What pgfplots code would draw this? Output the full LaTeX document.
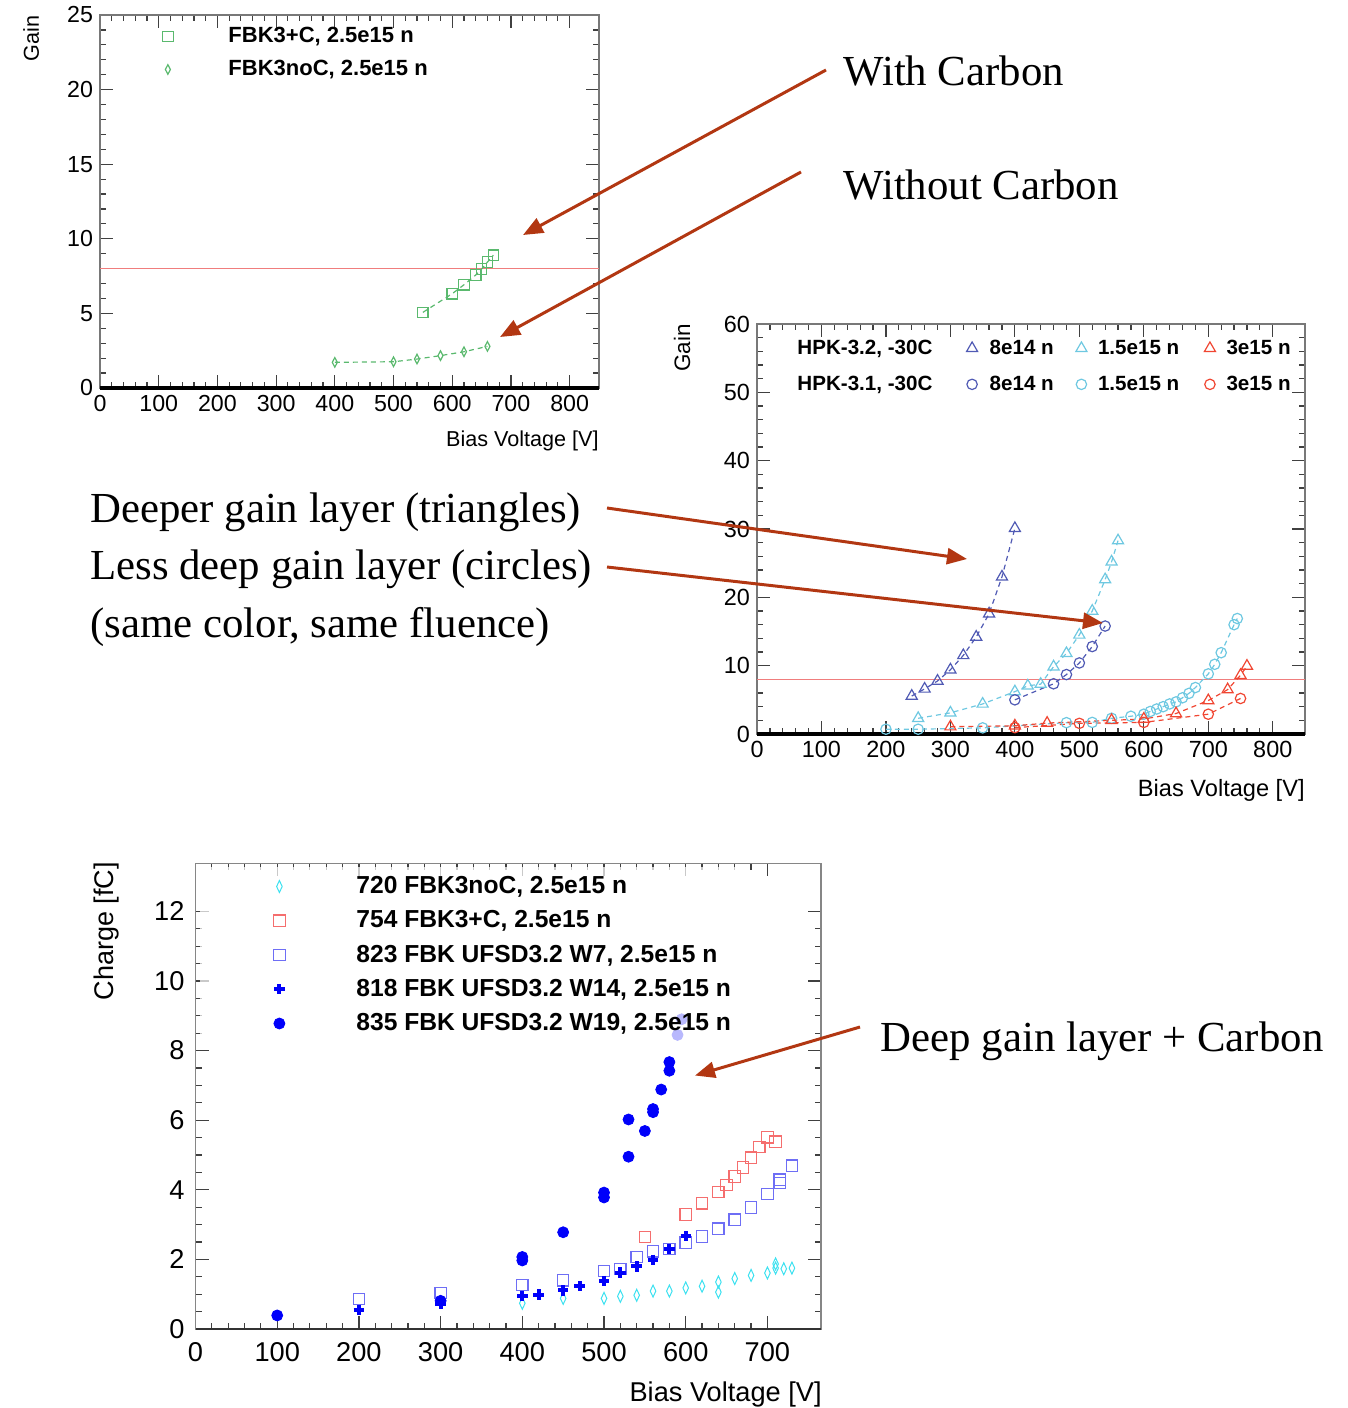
\documentclass[border=0pt]{standalone}
\usepackage{fontspec}
\setmainfont{Liberation Serif}
\setsansfont{Liberation Sans}
\usepackage{pgfplots}
\pgfplotsset{compat=1.18}
\usetikzlibrary{arrows.meta}

\definecolor{fgreen}{RGB}{90,185,110}
\definecolor{hdark}{RGB}{80,90,180}
\definecolor{hlight}{RGB}{110,200,225}
\definecolor{hred}{RGB}{240,70,50}
\definecolor{gline}{RGB}{240,125,125}
\definecolor{arr}{RGB}{178,55,18}
\definecolor{bcyan}{RGB}{60,225,240}
\definecolor{bred}{RGB}{245,110,110}
\definecolor{bsq}{RGB}{110,110,245}
\definecolor{bblue}{RGB}{0,0,250}
\definecolor{framec}{RGB}{120,120,120}

\pgfplotsset{
  rootax/.style={
    scale only axis, anchor=south west, clip=false,
    axis line style={framec, line width=0.6pt},
    every tick/.style={black!75, line width=0.6pt},
    tick align=inside, tick pos=both,
    major tick length=6.5pt, minor tick length=3.2pt,
    minor x tick num=4, minor y tick num=4,
    /pgf/number format/assume math mode=true,
    scaled ticks=false,
    legend cell align=left,
  }
}
\newcommand{\annot}{\fontsize{21.4}{25}\selectfont}

\begin{document}
\begin{tikzpicture}
\path[use as bounding box] (0pt,0pt) rectangle (674pt,-704pt);

%================ top-left =================
\begin{axis}[rootax, name=ax1, at={(50pt,-194pt)}, width=249.5pt, height=186.5pt,
  xmin=0, xmax=850, ymin=0, ymax=25,
  xtick={0,100,...,800}, ytick={0,5,...,25},
  tick label style={font=\sffamily\fontsize{11.6}{13}\selectfont},
  legend style={at={(rel axis cs:0.102,0.973)}, anchor=north west, draw=none, fill=none, inner sep=0pt,
     font=\sffamily\bfseries\fontsize{11}{13}\selectfont, row sep=5.5pt,
     nodes={inner sep=0pt, text height=8.5pt, text depth=2.5pt},
     /tikz/column 1/.style={column sep=22pt}},
  legend image code/.code={\draw[#1] plot coordinates {(8pt,0pt)}; \path (0pt,0pt) (16pt,0pt);},
]
\addlegendimage{fgreen, mark=square, mark size=2.6pt, line width=0.6pt, solid}
\addlegendentry{FBK3+C, 2.5e15 n}
\addlegendimage{fgreen, mark=diamond, mark size=2.4pt, mark options={xscale=0.7}, line width=0.6pt, solid}
\addlegendentry{FBK3noC, 2.5e15 n}
\addplot[gline, line width=0.7pt, forget plot] coordinates {(0,8)(850,8)};
\addplot[fgreen, line width=0.6pt, dash pattern=on 2.5pt off 2pt, mark=square, mark size=2.6pt, mark options={solid}, forget plot]
  coordinates {(550,5.07)(600,6.32)(620,6.92)(640,7.57)(650,7.97)(660,8.44)(670,8.9)};
\addplot[fgreen, line width=0.6pt, dash pattern=on 2.5pt off 2pt, mark=diamond, mark size=2.4pt, mark options={solid, xscale=0.7}, forget plot]
  coordinates {(400,1.72)(500,1.76)(540,1.94)(580,2.17)(620,2.43)(660,2.79)};
\draw[black, line width=2pt] (rel axis cs:0,0) -- (rel axis cs:1,0);
\end{axis}
\node[rotate=90, anchor=base east, inner sep=0pt, font=\sffamily\fontsize{10.8}{12}\selectfont] at (19.5pt,-7.5pt) {Gain};
\node[anchor=base east, inner sep=0pt, font=\sffamily\fontsize{10.8}{12}\selectfont] at (299.5pt,-223pt) {Bias Voltage [V]};

%================ middle-right =================
\begin{axis}[rootax, name=ax2, at={(378.5pt,-367pt)}, width=274pt, height=205pt,
  xmin=0, xmax=850, ymin=0, ymax=60,
  xtick={0,100,...,800}, ytick={0,10,...,60},
  tick label style={font=\sffamily\fontsize{11.7}{13}\selectfont},
  legend columns=4,
  legend style={at={(rel axis cs:0.073,0.966)}, anchor=north west, draw=none, fill=none, inner sep=0pt,
     font=\sffamily\bfseries\fontsize{10.3}{12}\selectfont, row sep=8pt,
     nodes={inner sep=0pt, text height=8pt, text depth=2pt},
     /tikz/column 2/.style={column sep=15.5pt},
     /tikz/column 3/.style={column sep=4.5pt},
     /tikz/column 4/.style={column sep=9.5pt},
     /tikz/column 5/.style={column sep=4pt},
     /tikz/column 6/.style={column sep=11pt},
     /tikz/column 7/.style={column sep=4pt}},
  legend image code/.code={\draw[#1] plot coordinates {(4pt,0pt)}; \path (0pt,0pt) (8pt,0pt);},
]
\addlegendimage{legend image code/.code={}}
\addlegendentry{HPK-3.2, -30C}
\addlegendimage{hdark, mark=triangle, mark size=3.2pt, line width=0.6pt, solid}
\addlegendentry{8e14 n}
\addlegendimage{hlight, mark=triangle, mark size=3.2pt, line width=0.6pt, solid}
\addlegendentry{1.5e15 n}
\addlegendimage{hred, mark=triangle, mark size=3.2pt, line width=0.6pt, solid}
\addlegendentry{3e15 n}
\addlegendimage{legend image code/.code={}}
\addlegendentry{HPK-3.1, -30C}
\addlegendimage{hdark, mark=o, mark size=2.6pt, line width=0.6pt, solid}
\addlegendentry{8e14 n}
\addlegendimage{hlight, mark=o, mark size=2.6pt, line width=0.6pt, solid}
\addlegendentry{1.5e15 n}
\addlegendimage{hred, mark=o, mark size=2.6pt, line width=0.6pt, solid}
\addlegendentry{3e15 n}
\addplot[gline, line width=0.7pt, forget plot] coordinates {(0,8)(850,8)};
\addplot[hlight, line width=0.6pt, dash pattern=on 2.5pt off 2pt, mark=o, mark size=2.6pt, mark options={solid}, forget plot]
  coordinates {(200,0.7)(250,0.7)(350,0.9)(480,1.66)(520,1.7)(550,2.3)(580,2.6)(600,2.9)(610,3.3)(620,3.66)(630,4.0)(640,4.4)(650,4.7)(660,5.3)(670,5.95)(680,6.8)(700,8.8)(710,10.2)(720,11.9)(740,16.0)(745,16.9)};
\addplot[hred, line width=0.6pt, dash pattern=on 2.5pt off 2pt, mark=o, mark size=2.6pt, mark options={solid}, forget plot]
  coordinates {(400,0.93)(500,1.56)(600,1.7)(700,2.9)(750,5.2)};
\addplot[hred, line width=0.6pt, dash pattern=on 2.5pt off 2pt, mark=triangle, mark size=3.2pt, mark options={solid}, forget plot]
  coordinates {(300,1.07)(400,1.2)(450,1.6)(550,2.0)(600,2.2)(650,3.0)(700,4.9)(730,6.5)(750,8.6)(760,9.95)};
\addplot[hlight, line width=0.6pt, dash pattern=on 2.5pt off 2pt, mark=triangle, mark size=3.2pt, mark options={solid}, forget plot]
  coordinates {(250,2.3)(300,3.1)(350,4.4)(400,6.2)(420,7.05)(440,7.3)(460,9.85)(480,11.8)(500,14.5)(520,18.0)(540,22.6)(550,25.2)(560,28.3)};
\addplot[hdark, line width=0.6pt, dash pattern=on 2.5pt off 2pt, mark=o, mark size=2.6pt, mark options={solid}, forget plot]
  coordinates {(400,5.0)(460,7.35)(480,8.7)(500,10.4)(520,12.8)(540,15.8)};
\addplot[hdark, line width=0.6pt, dash pattern=on 2.5pt off 2pt, mark=triangle, mark size=3.2pt, mark options={solid}, forget plot]
  coordinates {(240,5.56)(260,6.6)(280,7.76)(300,9.4)(320,11.5)(340,14.2)(360,17.6)(380,23.0)(400,30.1)};
\draw[black, line width=2pt] (rel axis cs:0,0) -- (rel axis cs:1,0);
\end{axis}
\node[rotate=90, anchor=base east, inner sep=0pt, font=\sffamily\fontsize{11.2}{12}\selectfont] at (345pt,-162pt) {Gain};
\node[anchor=base east, inner sep=0pt, font=\sffamily\fontsize{11.8}{13}\selectfont] at (652.5pt,-398pt) {Bias Voltage [V]};

%================ bottom =================
\begin{axis}[rootax, name=ax3, at={(97.75pt,-664.5pt)}, width=312.75pt, height=232.85pt,
  xmin=0, xmax=765.6, ymin=0, ymax=13.38,
  xtick={0,100,...,700}, ytick={0,2,...,12},
  minor y tick num=3,
  axis line style={framec!90, line width=0.8pt},
  tick label style={font=\sffamily\fontsize{13.6}{15}\selectfont},
  xticklabel style={yshift=-3pt},
  yticklabel style={xshift=-2pt},
  legend style={at={(rel axis cs:0.0072,0.994)}, anchor=north west, draw=none, fill=white, fill opacity=0.72, text opacity=1,
     inner xsep=2pt, inner ysep=4pt,
     font=\sffamily\bfseries\fontsize{12.3}{14}\selectfont, row sep=5.125pt,
     nodes={inner sep=0pt, text height=9.5pt, text depth=2.5pt},
     /tikz/column 1/.style={column sep=29pt}},
  legend image code/.code={\draw[#1, fill opacity=1, draw opacity=1] plot coordinates {(36.5pt,0pt)}; \path (0pt,0pt) (45pt,0pt);},
]
\addlegendimage{bcyan, mark=diamond, mark size=3pt, mark options={xscale=0.62}, line width=0.5pt}
\addlegendentry{720 FBK3noC, 2.5e15 n}
\addlegendimage{bred, mark=square, mark size=2.85pt, line width=0.6pt}
\addlegendentry{754 FBK3+C, 2.5e15 n}
\addlegendimage{bsq, mark=square, mark size=2.85pt, line width=0.6pt}
\addlegendentry{823 FBK UFSD3.2 W7, 2.5e15 n}
\addlegendimage{bblue, mark=+, mark size=2.6pt, line width=2pt}
\addlegendentry{818 FBK UFSD3.2 W14, 2.5e15 n}
\addlegendimage{bblue, mark=*, mark size=2.75pt, mark options={fill=bblue}}
\addlegendentry{835 FBK UFSD3.2 W19, 2.5e15 n}
\addplot[bcyan, only marks, mark=diamond, mark size=3pt, mark options={xscale=0.62}, line width=0.5pt, forget plot]
  coordinates {(400,0.74)(450,0.88)(500,0.88)(520,0.94)(540,0.97)(560,1.09)(580,1.09)(600,1.18)(620,1.23)(640,1.35)(640,1.06)(660,1.45)(680,1.54)(700,1.61)(710,1.75)(710,1.87)(720,1.73)(730,1.75)};
\addplot[bred, only marks, mark=square, mark size=2.85pt, line width=0.6pt, forget plot]
  coordinates {(550,2.64)(600,3.29)(620,3.61)(640,3.94)(650,4.14)(660,4.38)(670,4.64)(680,4.92)(690,5.23)(700,5.51)(710,5.38)};
\addplot[bsq, only marks, mark=square, mark size=2.85pt, line width=0.6pt, forget plot]
  coordinates {(200,0.86)(300,1.03)(400,1.26)(450,1.4)(500,1.67)(520,1.73)(540,2.07)(560,2.23)(580,2.3)(600,2.48)(620,2.66)(640,2.88)(660,3.14)(680,3.49)(700,3.88)(715,4.2)(715,4.29)(730,4.69)};
\addplot[bblue, only marks, mark=+, mark size=2.6pt, line width=2pt, forget plot]
  coordinates {(200,0.55)(300,0.72)(400,0.95)(420,0.99)(450,1.11)(470,1.23)(500,1.38)(520,1.62)(540,1.8)(560,1.99)(580,2.3)(600,2.67)};
\addplot[bblue, only marks, mark=*, mark size=2.75pt, mark options={fill=bblue}, forget plot]
  coordinates {(100,0.39)(300,0.81)(400,2.07)(400,1.97)(450,2.78)(500,3.92)(500,3.78)(530,4.95)(530,6.02)(550,5.69)(560,6.32)(560,6.23)(570,6.88)(580,7.42)(580,7.67)(590,8.45)(595,8.9)};
\draw[black!80, line width=1.4pt] (rel axis cs:0,0) -- (rel axis cs:1,0);
\end{axis}
\node[rotate=90, anchor=base east, inner sep=0pt, font=\sffamily\fontsize{13.5}{15}\selectfont] at (56.5pt,-431pt) {Charge [fC]};
\node[anchor=base east, inner sep=0pt, font=\sffamily\fontsize{13.6}{15}\selectfont] at (411pt,-700.5pt) {Bias Voltage [V]};

%================ annotations =================
\node[anchor=base west, inner sep=0pt, font=\annot] at (421.5pt,-42.5pt) {With Carbon};
\node[anchor=base west, inner sep=0pt, font=\annot] at (421.5pt,-99.5pt) {Without Carbon};
\node[anchor=base west, inner sep=0pt, font=\annot] at (45pt,-261pt) {Deeper gain layer (triangles)};
\node[anchor=base west, inner sep=0pt, font=\annot] at (45pt,-289.75pt) {Less deep gain layer (circles)};
\node[anchor=base west, inner sep=0pt, font=\annot] at (45pt,-318.5pt) {(same color, same fluence)};
\node[anchor=base west, inner sep=0pt, font=\annot] at (440.25pt,-525.5pt) {Deep gain layer + Carbon};

\begin{scope}[arr, line width=1.5pt, -{Triangle[length=10pt, width=8pt]}]
\draw (413pt,-35pt) -- (261.5pt,-117.5pt);
\draw (400.5pt,-86pt) -- (250pt,-168.5pt);
\draw (303.5pt,-254pt) -- (483.5pt,-279.5pt);
\draw (303.5pt,-283.5pt) -- (551.5pt,-311.5pt);
\draw (430pt,-513.5pt) -- (347.5pt,-537.75pt);
\end{scope}
\end{tikzpicture}
\end{document}
